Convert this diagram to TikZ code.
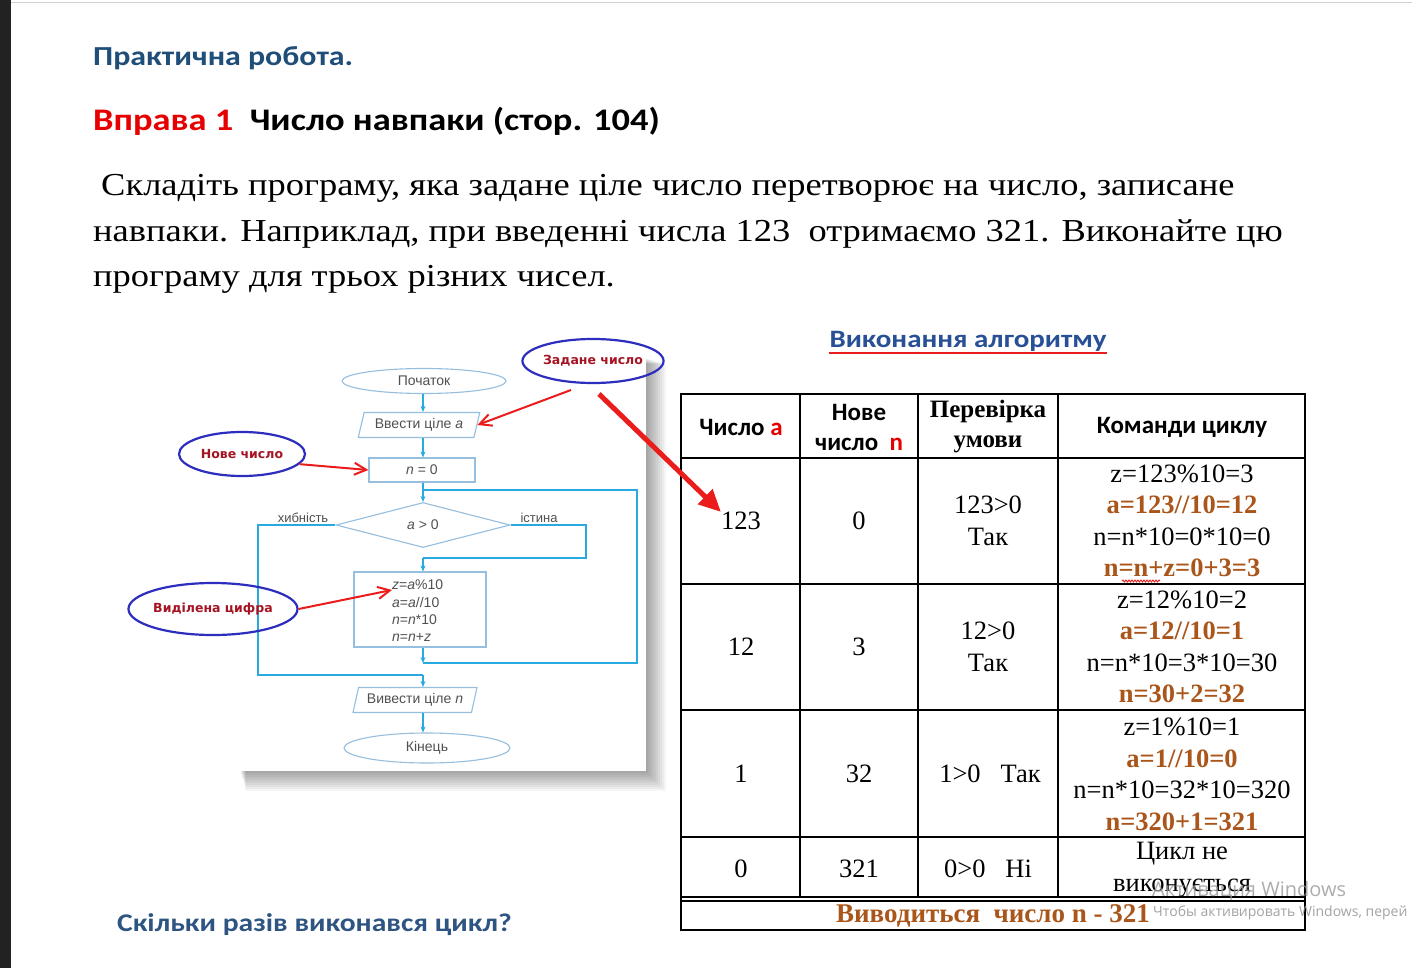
\documentclass[tikz,border=0pt]{standalone}
\usepackage{fontspec}
\setmainfont{Liberation Serif}
\newfontfamily\parfont[FakeStretch=1.14]{Liberation Serif}
\newfontfamily\calfont{Carlito}
\newfontfamily\calw[FakeStretch=1.16]{Carlito}
\newfontfamily\arfont{Liberation Sans}
\newfontfamily\dvfont{DejaVu Sans}
\newfontfamily\wmfont{Open Sans}
\usetikzlibrary{shapes.geometric,arrows.meta,decorations.pathmorphing}
\definecolor{shpc}{RGB}{150,190,222}
\definecolor{flowc}{RGB}{40,170,225}
\definecolor{ftxt}{RGB}{80,80,80}
\definecolor{callc}{RGB}{45,45,190}
\definecolor{calltxt}{RGB}{165,20,35}
\definecolor{redc}{RGB}{235,28,28}
\definecolor{brownc}{RGB}{170,85,25}
\definecolor{titleblue}{RGB}{31,78,121}
\definecolor{headblue}{RGB}{40,80,150}
\definecolor{askblue}{RGB}{46,84,130}
\definecolor{vred}{RGB}{230,0,0}
\definecolor{stripc}{RGB}{34,34,34}
\newcommand{\fsz}[2]{\fontsize{#1}{#2}\selectfont}
\begin{document}
\begin{tikzpicture}[x=1pt,y=-1pt,
  shp/.style={draw=shpc, line width=1.1pt, font=\arfont\fsz{14}{17}, text=ftxt, inner sep=0pt},
  term/.style={shp, ellipse},
  io/.style={shp, trapezium, trapezium left angle=70, trapezium right angle=110, trapezium stretches=true},
  proc/.style={shp, rectangle},
  cond/.style={shp, diamond},
  flow/.style={draw=flowc, line width=1.3pt, -{Stealth[length=6pt,width=5pt]}},
  flowl/.style={draw=flowc, line width=1.3pt},
  blab/.style={font=\arfont\fsz{13}{15}, text=ftxt, inner sep=0pt},
  callout/.style={ellipse, draw=callc, line width=2.2pt, font=\dvfont\bfseries\fsz{12.5}{15}, text=calltxt, inner sep=0pt},
  redarr/.style={draw=redc, line width=2pt, -{Straight Barb[length=12pt,width=12pt]}},
  bigred/.style={draw=redc, line width=5pt, -{Triangle[length=22pt,width=20pt]}},
  tab/.style={draw=black, line width=1.3pt},
  cell/.style={font=\fsz{26.5}{31.5}, inner sep=0pt, align=center},
  hdr/.style={font=\calfont\bfseries\fsz{25}{30}, inner sep=0pt, align=center},
]
\useasboundingbox (0,0) rectangle (1412,968);
\fill[white] (0,0) rectangle (1412,968);
\fill[stripc] (0,0) rectangle (11,968);
\draw[black!18, line width=1pt] (11,3) -- (1412,3);

% titles
\node[anchor=base west, inner sep=0pt, font=\calw\bfseries\fsz{27.5}{30}, text=titleblue] (t1) at (93,66) {Практична робота.};
\node[anchor=base west, inner sep=0pt, font=\calw\bfseries\fsz{31.4}{36}] (t2) at (93,131) {\textcolor{vred}{Вправа 1}~ Число навпаки (стор. 104)};
\node[anchor=base west, inner sep=0pt, font=\parfont\fsz{32}{40}] (p1) at (101,196) {Складіть програму, яка задане ціле число перетворює на число, записане};
\node[anchor=base west, inner sep=0pt, font=\parfont\fsz{32}{40}] (p2) at (93,241) {навпаки. Наприклад, при введенні числа 123~ отримаємо 321. Виконайте цю};
\node[anchor=base west, inner sep=0pt, font=\parfont\fsz{32}{40}] (p3) at (93,286) {програму для трьох різних чисел.};

% flowchart picture shadow and background
\foreach \i in {1,...,10} \fill[black, opacity=0.04] (240+\i*0.6,358+\i*0.6) rectangle (646+\i*2,771+\i*2);
\fill[white] (240,358) rectangle (646,771);

% flowchart
\node[term, minimum width=164pt, minimum height=25pt] (start) at (424,381) {Початок};
\node[io, minimum width=122pt, minimum height=25pt] (in) at (419,425) {Ввести ціле \textit{a}};
\node[proc, minimum width=106pt, minimum height=24pt] (n0) at (422,470) {\textit{n} = 0};
\node[cond, minimum width=174pt, minimum height=45pt] (cnd) at (423,525) {\textit{a} > 0};
\node[proc, minimum width=132pt, minimum height=75pt] (body) at (420,609.5) {};
\node[anchor=west, align=left, inner sep=0pt, font=\arfont\fsz{14}{17.3}, text=ftxt] (bodyt) at (392,611) {\textit{z}=\textit{a}\%10\\\textit{a}=\textit{a}//10\\\textit{n}=\textit{n}*10\\\textit{n}=\textit{n}+\textit{z}};
\node[io, minimum width=124pt, minimum height=25pt] (out) at (415,700) {Вивести ціле \textit{n}};
\node[term, minimum width=166pt, minimum height=30pt] (end) at (427,748) {Кінець};
\node[blab] (lf) at (303,518) {хибність};
\node[blab] (lt) at (539,518) {істина};

\coordinate (jtop) at (423,490);
\coordinate (jbot) at (423,663);
\coordinate (loopR) at (637,577);
\coordinate (tr2) at (586,558);
\coordinate (tr3) at (423,558);
\coordinate (fl2) at (258,675);
\coordinate (fl3) at (423,675);

\draw[flow] (start.south -| jtop) -- (in.north -| jtop);
\draw[flow] (in.south -| jtop) -- (n0.north -| jtop);
\draw[flow] (n0.south -| jtop) -- (cnd.north);
\draw[flow] (body.south -| jbot) -- (jbot);
\draw[flowl] (jbot) -| (loopR) |- (jtop);
\draw[flowl] (cnd.east) -| (tr2) -- (tr3);
\draw[flow] (tr3) -- (body.north -| tr3);
\draw[flowl] (cnd.west) -| (fl2) -- (fl3);
\draw[flow] (fl3) -- (out.north -| fl3);
\draw[flow] (out.south -| fl3) -- (end.north -| fl3);

% callouts
\node[callout, minimum width=136pt, minimum height=44pt] (zad) at (593,361) {Задане число};
\node[callout, minimum width=126pt, minimum height=44pt] (nove) at (242,454) {Нове число};
\node[callout, minimum width=166pt, minimum height=52pt] (vyd) at (213,609) {Виділена цифра};
\coordinate (zadA) at (571,390);
\coordinate (bigA) at (599,394);
\draw[redarr] (zadA) -- (in.east);
\draw[redarr] (nove.-10) -- (n0.west);
\draw[redarr] (vyd.east) -- ([yshift=-10pt]bodyt.north west);

% table title
\node[inner sep=0pt, font=\calw\bfseries\fsz{25}{30}, text=headblue] (ht) at (968,341) {Виконання алгоритму};
\draw[redc, line width=2pt] ([yshift=-2pt]ht.south west) -- ([yshift=-2pt]ht.south east);

% table
\draw[tab] (681,394) rectangle (1305,930);
\foreach \x in {800,918,1058} \draw[tab] (\x,394) -- (\x,898);
\foreach \y in {458,584,710,837,897,901} \draw[tab] (681,\y) -- (1305,\y);

\node[hdr] (h1) at (741,427) {Число \textcolor{vred}{а}};
\node[hdr] (h2) at (859,427) {Нове\\число~ \textcolor{vred}{n}};
\node[cell, font=\bfseries\fsz{25}{30}] (h3) at (988,427) {Перевірка\\умови};
\node[hdr] (h4) at (1182,427) {Команди циклу};

\node[cell] (c11) at (741,521) {123};
\node[cell] (c12) at (859,521) {0};
\node[cell] (c13) at (988,521) {123>0\\Так};
\node[cell] (c14) at (1182,521) {z=123\%10=3\\{\bfseries\color{brownc}a=123//10=12}\\n=n*10=0*10=0\\{\bfseries\color{brownc}n=n+z=0+3=3}};
\draw[redc, line width=0.9pt, decorate, decoration={snake, amplitude=1pt, segment length=3pt}] (1122,581) -- (1160,581);

\node[cell] (c21) at (741,647) {12};
\node[cell] (c22) at (859,647) {3};
\node[cell] (c23) at (988,647) {12>0\\Так};
\node[cell] (c24) at (1182,647) {z=12\%10=2\\{\bfseries\color{brownc}a=12//10=1}\\n=n*10=3*10=30\\{\bfseries\color{brownc}n=30+2=32}};

\node[cell] (c31) at (741,774) {1};
\node[cell] (c32) at (859,774) {32};
\node[cell] (c33) at (990,774) {1>0~~ Так};
\node[cell] (c34) at (1182,774.5) {z=1\%10=1\\{\bfseries\color{brownc}a=1//10=0}\\n=n*10=32*10=320\\{\bfseries\color{brownc}n=320+1=321}};

\node[cell] (c41) at (741,869) {0};
\node[cell] (c42) at (859,869) {321};
\node[cell] (c43) at (988,869) {0>0~~ Ні};
\node[cell, font=\fsz{26.5}{32}] (c44) at (1182,870) {Цикл не\\виконується};

\node[cell, font=\bfseries\fsz{27}{30}, text=brownc] (c5) at (993,916) {Виводиться~ число n - 321};

\draw[bigred] (bigA) -- (c11.north west);

% watermark
\node[anchor=west, inner sep=0pt, font=\wmfont\fsz{20}{24}, text=black!40, opacity=0.8] (wm1) at (1152,891) {Активация Windows};
\node[anchor=west, inner sep=0pt, font=\wmfont\fsz{14}{17}, text=black!45, opacity=0.8] (wm2) at (1153,913) {Чтобы активировать Windows, перей};

% question
\node[anchor=west, inner sep=0pt, font=\calw\bfseries\fsz{25.5}{30}, text=askblue] (q) at (117,925) {Скільки разів виконався цикл?};
\end{tikzpicture}
\end{document}
